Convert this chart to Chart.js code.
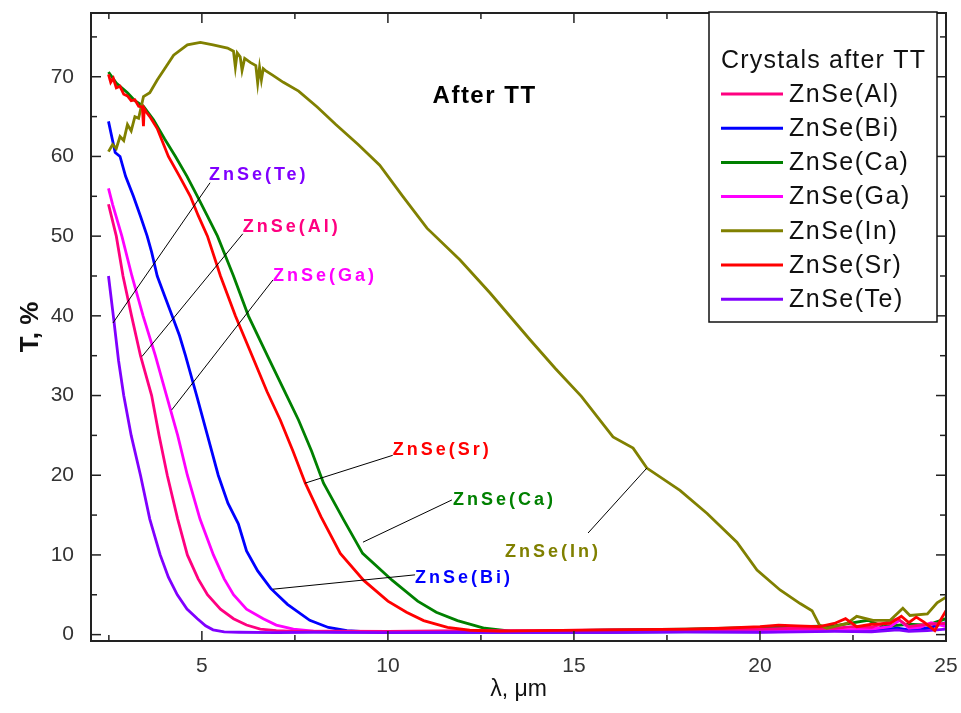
<!DOCTYPE html>
<html>
<head>
<meta charset="utf-8">
<title>ZnSe crystals after TT</title>
<script src="https://cdn.jsdelivr.net/npm/chart.js@4.4.1/dist/chart.umd.min.js"></script>
<style>
  html, body { margin: 0; padding: 0; background: #fff; }
  canvas { display: block; }
</style>
</head>
<body>
<canvas id="chart" width="961" height="713"></canvas>
<script>
// wavelength (um) and transmission (%), one pair of arrays per crystal
const alX = [2.49, 2.7, 2.88, 3.11, 3.35, 3.65, 3.85, 4.07, 4.35, 4.61, 4.9, 5.15, 5.5, 5.85, 6.2, 6.57, 7.0, 7.5, 8.5, 10, 12, 14, 16, 18, 20, 21, 22, 22.5, 23, 23.7, 24, 24.5, 25];
const alY = [54, 50, 45, 40, 35, 30, 25, 20, 14.5, 10, 7, 5, 3.2, 2, 1.2, 0.7, 0.5, 0.4, 0.45, 0.4, 0.5, 0.5, 0.6, 0.6, 0.7, 0.8, 0.8, 1.0, 0.9, 2.0, 1.0, 1.3, 1.4];

const biX = [2.49, 2.6, 2.67, 2.8, 2.95, 3.16, 3.35, 3.53, 3.65, 3.8, 4.0, 4.2, 4.4, 4.56, 4.86, 5.15, 5.44, 5.7, 5.98, 6.2, 6.5, 6.85, 7.3, 7.9, 8.4, 8.9, 9.5, 10.5, 12, 14, 16, 18, 20, 21, 22, 23, 23.7, 24, 24.5, 25];
const biY = [64.4, 62, 60.5, 60, 57.5, 55, 52.5, 50, 48, 45, 42.5, 40, 37.5, 35, 30, 25, 20, 16.5, 13.9, 10.5, 8, 5.8, 3.8, 1.8, 0.9, 0.5, 0.35, 0.3, 0.3, 0.3, 0.3, 0.35, 0.35, 0.4, 0.5, 0.5, 0.8, 0.6, 0.8, 1.5];

const caX = [2.49, 2.7, 3.0, 3.2, 3.43, 3.7, 4.0, 4.29, 4.6, 4.88, 5.15, 5.42, 5.85, 6.25, 6.76, 7.28, 7.6, 7.95, 8.27, 8.8, 9.32, 10.12, 10.8, 11.3, 11.87, 12.6, 13.3, 14, 16, 18, 20, 21, 22, 22.9, 23.3, 24, 24.5, 25];
const caY = [70.6, 69.2, 68, 67, 66.3, 64.6, 62.2, 60, 57.5, 55, 52.5, 50, 45, 40, 35, 30, 26.9, 23, 19, 14.5, 10.2, 6.8, 4.2, 2.8, 1.76, 0.8, 0.45, 0.45, 0.6, 0.7, 0.9, 1.0, 1.1, 1.8, 1.0, 1.3, 1.2, 2.0];

const gaX = [2.49, 2.6, 2.85, 3.12, 3.42, 3.75, 4.05, 4.35, 4.61, 4.95, 5.31, 5.6, 5.85, 6.2, 6.65, 7.0, 7.46, 8.0, 8.6, 10, 12, 14, 16, 18, 20, 21, 22, 23, 23.5, 23.75, 24, 24.3, 24.6, 25];
const gaY = [56, 54, 50, 45, 40, 35, 30, 25, 20, 14.5, 10, 7, 5, 3.2, 2, 1.2, 0.7, 0.45, 0.35, 0.35, 0.4, 0.4, 0.45, 0.45, 0.5, 0.6, 0.6, 0.7, 1.0, 1.8, 0.8, 0.9, 1.5, 1.0];

const inX = [2.49, 2.6, 2.7, 2.8, 2.9, 3.0, 3.1, 3.2, 3.3, 3.43, 3.6, 3.8, 4.0, 4.24, 4.61, 4.96, 5.3, 5.69, 5.85, 5.9, 5.95, 6.03, 6.08, 6.15, 6.3, 6.45, 6.5, 6.55, 6.6, 6.65, 6.7, 6.9, 7.19, 7.6, 8.1, 8.6, 9.2, 9.78, 10.4, 11.05, 11.94, 12.74, 13.82, 14.5, 15.2, 16.05, 16.59, 16.96, 17.85, 18.58, 19.38, 19.92, 20.54, 21.08, 21.4, 21.6, 21.8, 22.34, 22.6, 23.04, 23.5, 23.84, 24.03, 24.5, 24.76, 25];
const inY = [60.6, 61.5, 61, 62.5, 62, 64, 63.2, 65, 64.8, 67.5, 68, 69.6, 71, 72.7, 74, 74.3, 74.0, 73.6, 73.2, 71.2, 73, 72.5, 70.8, 72.3, 71.8, 71.4, 69.2, 71.2, 69.6, 71, 70.8, 70.2, 69.3, 68.2, 66.2, 64, 61.5, 58.9, 55, 51, 47, 42.9, 37, 33.4, 29.9, 24.8, 23.4, 20.9, 18.1, 15.2, 11.6, 8.1, 5.6, 3.9, 3.0, 1.2, 0.8, 1.4, 2.3, 1.8, 1.8, 3.3, 2.4, 2.6, 4.0, 4.7];

const srX = [2.49, 2.55, 2.62, 2.7, 2.8, 2.9, 3.0, 3.1, 3.2, 3.3, 3.4, 3.43, 3.45, 3.5, 3.6, 3.8, 4.1, 4.4, 4.69, 4.9, 5.15, 5.5, 5.9, 6.35, 6.75, 7.11, 7.45, 7.78, 8.2, 8.72, 9.35, 10.0, 10.5, 10.96, 11.6, 12.2, 13, 14, 16, 18, 19, 20, 20.5, 21, 21.6, 22, 22.3, 22.6, 23, 23.5, 23.8, 24.0, 24.2, 24.4, 24.7, 24.85, 25];
const srY = [70.3, 69.3, 69.8, 68.6, 68.8, 67.8, 67.6, 67, 67.1, 66.3, 66.2, 63.8, 66, 65.6, 65, 63.5, 60, 57.5, 55, 52.6, 50, 45, 40, 35, 30.5, 26.9, 23, 19, 14.8, 10.2, 6.8, 4.2, 2.8, 1.76, 0.9, 0.55, 0.45, 0.5, 0.6, 0.7, 0.8, 1.0, 1.2, 1.1, 1.0, 1.4, 2.0, 1.0, 1.3, 1.4, 2.3, 1.5, 2.2, 1.6, 0.5, 1.8, 3.0];

const teX = [2.49, 2.62, 2.76, 2.9, 3.1, 3.35, 3.6, 3.88, 4.1, 4.34, 4.6, 4.88, 5.1, 5.3, 5.6, 6.0, 7.0, 8.0, 10, 12, 14, 16, 18, 20, 21, 22, 23, 23.7, 24, 24.5, 25];
const teY = [45, 40, 34.4, 30, 25, 20, 14.5, 10, 7.2, 5, 3.2, 2, 1.1, 0.6, 0.35, 0.3, 0.25, 0.3, 0.25, 0.3, 0.3, 0.3, 0.35, 0.3, 0.35, 0.4, 0.35, 0.6, 0.4, 0.5, 0.7];

const xTickValues = [5, 10, 15, 20, 25];
const xMinorTicks = [2.5, 7.5, 12.5, 17.5, 22.5];
const yTickValues = [0, 10, 20, 30, 40, 50, 60, 70];
const yMinorTicks = [5, 15, 25, 35, 45, 55, 65, 75];

const FONT = "'Liberation Sans', Arial, sans-serif";

const series = [
  { label: 'ZnSe(Al)', xs: alX, ys: alY, color: '#ff0080', order: 4 },
  { label: 'ZnSe(Bi)', xs: biX, ys: biY, color: '#0000ff', order: 6 },
  { label: 'ZnSe(Ca)', xs: caX, ys: caY, color: '#008000', order: 7 },
  { label: 'ZnSe(Ga)', xs: gaX, ys: gaY, color: '#ff00ff', order: 5 },
  { label: 'ZnSe(In)', xs: inX, ys: inY, color: '#808000', order: 2 },
  { label: 'ZnSe(Sr)', xs: srX, ys: srY, color: '#ff0000', order: 1 },
  { label: 'ZnSe(Te)', xs: teX, ys: teY, color: '#8000ff', order: 3 }
];

// callout labels: text anchor and leader line ends, in data units
const callouts = [
  { text: 'ZnSe(Te)', color: '#8000ff', at: [5.19, 57.7], from: [2.61, 39.1], to: [5.22, 56.7] },
  { text: 'ZnSe(Al)', color: '#ff0080', at: [6.10, 51.1], from: [3.39, 34.9], to: [6.10, 50.3] },
  { text: 'ZnSe(Ga)', color: '#ff00ff', at: [6.91, 45.0], from: [4.19, 28.2], to: [6.91, 44.5] },
  { text: 'ZnSe(Sr)', color: '#ff0000', at: [10.13, 23.2], from: [7.77, 19.0], to: [10.13, 22.5] },
  { text: 'ZnSe(Ca)', color: '#008000', at: [11.75, 16.9], from: [9.33, 11.6], to: [11.72, 16.9] },
  { text: 'ZnSe(Bi)', color: '#0000ff', at: [10.73, 7.1], from: [6.91, 5.7], to: [10.73, 7.5] },
  { text: 'ZnSe(In)', color: '#808000', at: [13.15, 10.4], from: [15.38, 12.75], to: [16.96, 20.9] }
];

const framePlugin = {
  id: 'frame',
  afterDatasetsDraw(chart) {
    const { ctx, chartArea: a, scales: { x, y } } = chart;
    ctx.save();
    ctx.strokeStyle = '#222';
    ctx.lineWidth = 2;
    ctx.strokeRect(a.left, a.top, a.right - a.left, a.bottom - a.top);

    const tick = (px, py, dx, dy) => {
      ctx.beginPath();
      ctx.moveTo(px, py);
      ctx.lineTo(px + dx, py + dy);
      ctx.stroke();
    };
    ctx.lineWidth = 1.5;
    xTickValues.forEach(v => {
      const px = x.getPixelForValue(v);
      tick(px, a.bottom, 0, -10);
      tick(px, a.top, 0, 10);
    });
    xMinorTicks.forEach(v => {
      const px = x.getPixelForValue(v);
      tick(px, a.bottom, 0, -6);
      tick(px, a.top, 0, 6);
    });
    yTickValues.forEach(v => {
      const py = y.getPixelForValue(v);
      tick(a.left, py, 10, 0);
      tick(a.right, py, -10, 0);
    });
    yMinorTicks.forEach(v => {
      const py = y.getPixelForValue(v);
      tick(a.left, py, 6, 0);
      tick(a.right, py, -6, 0);
    });

    // callouts
    ctx.lineWidth = 1;
    ctx.strokeStyle = '#000';
    callouts.forEach(c => {
      ctx.beginPath();
      ctx.moveTo(x.getPixelForValue(c.from[0]), y.getPixelForValue(c.from[1]));
      ctx.lineTo(x.getPixelForValue(c.to[0]), y.getPixelForValue(c.to[1]));
      ctx.stroke();
      ctx.font = 'bold 18px ' + FONT;
      ctx.letterSpacing = '3px';
      ctx.fillStyle = c.color;
      ctx.textBaseline = 'middle';
      ctx.textAlign = 'left';
      ctx.fillText(c.text, x.getPixelForValue(c.at[0]), y.getPixelForValue(c.at[1]));
    });

    // inner title
    ctx.font = 'bold 24px ' + FONT;
    ctx.letterSpacing = '1.5px';
    ctx.fillStyle = '#000';
    ctx.fillText('After TT', x.getPixelForValue(11.2), y.getPixelForValue(67.5));

    // legend box, pinned to the top right corner of the plot
    const lx = a.right - 237, rx = a.right - 9;
    const ty = a.top - 1, by = a.top + 309;
    ctx.fillStyle = '#fff';
    ctx.fillRect(lx, ty, rx - lx, by - ty);
    ctx.lineWidth = 1.5;
    ctx.strokeStyle = '#111';
    ctx.strokeRect(lx, ty, rx - lx, by - ty);

    ctx.font = '25px ' + FONT;
    ctx.letterSpacing = '1.2px';
    ctx.fillStyle = '#111';
    ctx.fillText('Crystals after TT', lx + 12, ty + 49);
    series.forEach((s, i) => {
      const iy = ty + 82 + i * 34.2;
      ctx.strokeStyle = s.color;
      ctx.lineWidth = 3;
      ctx.beginPath();
      ctx.moveTo(lx + 12, iy);
      ctx.lineTo(lx + 74, iy);
      ctx.stroke();
      ctx.fillStyle = '#111';
      ctx.letterSpacing = '1.5px';
      ctx.fillText(s.label, lx + 80, iy + 1);
    });
    ctx.restore();
  }
};

new Chart(document.getElementById('chart'), {
  type: 'line',
  data: {
    datasets: series.map(s => ({
      label: s.label,
      data: s.xs.map((v, i) => ({ x: v, y: s.ys[i] })),
      borderColor: s.color,
      backgroundColor: s.color,
      borderWidth: 2.8,
      pointRadius: 0,
      tension: 0,
      order: s.order
    }))
  },
  options: {
    responsive: false,
    animation: false,
    devicePixelRatio: 1,
    layout: { padding: { left: 0, right: 15, top: 13, bottom: 0 } },
    plugins: { legend: { display: false }, tooltip: { enabled: false } },
    scales: {
      x: {
        type: 'linear',
        min: 2.02,
        max: 25,
        grid: { display: false, drawTicks: false },
        border: { display: false },
        afterBuildTicks: scale => { scale.ticks = xTickValues.map(v => ({ value: v })); },
        afterFit: scale => {
          scale.height = 72;
          scale.paddingLeft = 0;
          scale.paddingRight = 0;
        },
        ticks: { color: '#333', padding: 13, maxRotation: 0, font: { family: FONT, size: 21 } },
        title: { display: true, text: 'λ, μm', color: '#111', padding: { top: 4, bottom: 10 }, font: { family: FONT, size: 23 } }
      },
      y: {
        min: -0.8,
        max: 78,
        grid: { display: false, drawTicks: false },
        border: { display: false },
        afterBuildTicks: scale => { scale.ticks = yTickValues.map(v => ({ value: v })); },
        afterFit: scale => {
          scale.width = 91;
          scale.paddingTop = 0;
          scale.paddingBottom = 0;
        },
        ticks: { color: '#333', padding: 17, font: { family: FONT, size: 21 } },
        title: { display: true, text: 'T, %', color: '#111', padding: { top: 15, bottom: 4 }, font: { family: FONT, size: 26, weight: 'bold' } }
      }
    }
  },
  plugins: [framePlugin]
});
</script>
</body>
</html>
